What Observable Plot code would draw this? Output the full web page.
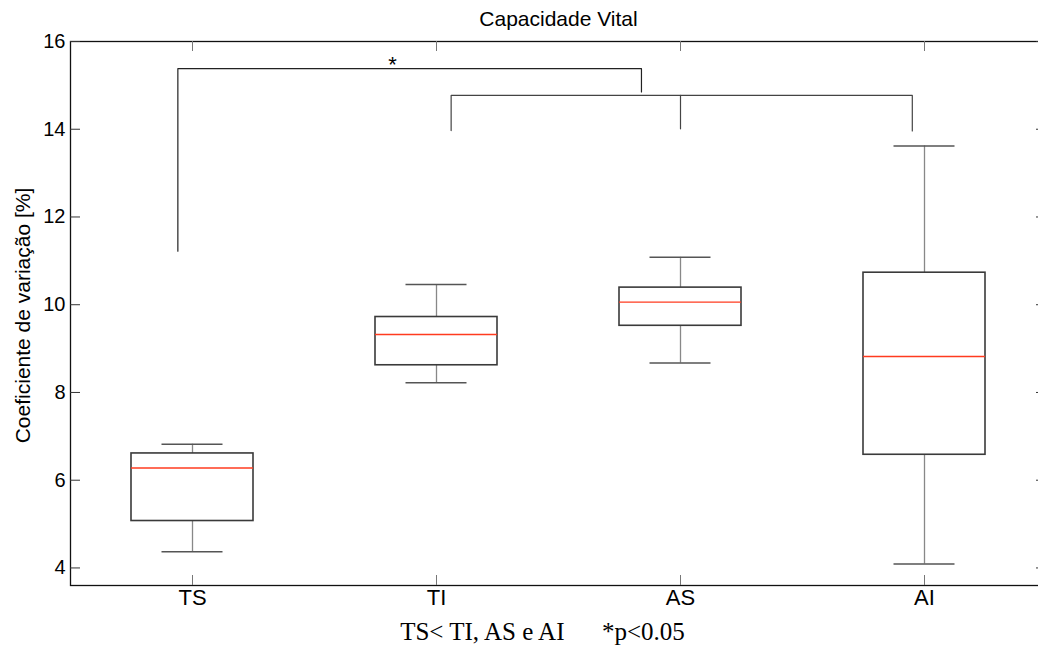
<!DOCTYPE html>
<html>
<head>
<meta charset="utf-8">
<script src="https://cdn.jsdelivr.net/npm/d3@7"></script>
<script src="https://cdn.jsdelivr.net/npm/@observablehq/plot@0.6"></script>
<style>
  html, body { margin: 0; padding: 0; background: white; overflow: hidden; }
  #chart svg { display: block; max-width: none !important; }
</style>
</head>
<body>
<div id="chart"></div>
<script>
// ---- data ----
const categories = ["TS", "TI", "AS", "AI"];
const lowerWhisker = [4.37, 8.22, 8.67, 4.09];
const q1 = [5.07, 8.62, 9.52, 6.58];
const median = [6.28, 9.32, 10.06, 8.82];
const q3 = [6.61, 9.72, 10.39, 10.73];
const upperWhisker = [6.82, 10.46, 11.08, 13.62];
const yTicks = [4, 6, 8, 10, 12, 14, 16];

// significance brackets (data units)
const bracket1X = [0.94, 0.94, 2.84, 2.84];
const bracket1Y = [11.22, 15.38, 15.38, 14.85];
const bracket2X = [2.06, 2.06, 3.95, 3.95];
const bracket2Y = [13.97, 14.77, 14.77, 13.96];
const bracket2MidX = [3, 3];
const bracket2MidY = [14.01, 14.77];
const starX = [1.82];
const starY = [15.57];

const title = "Capacidade Vital";
const yLabel = "Coeficiente de variação [%]";
const caption = "TS< TI, AS e AI\u00a0\u00a0\u00a0\u00a0\u00a0\u00a0*p<0.05";

// ---- layout/style ----
const W = 1050, H = 650;
const mL = 70, mR = 4, mT = 41, mB = 65;
const plotW = W - mL - mR, plotH = H - mT - mB;
const BOX_HALF = 0.25, CAP_HALF = 0.125;
const sans = "'Liberation Sans', Arial, Helvetica, sans-serif";
const serif = "'Liberation Serif', 'Times New Roman', serif";

const positions = categories.map((c, i) => i + 1);
const boxes = categories.map((c, i) => ({
  pos: i + 1, lo: lowerWhisker[i], q1: q1[i], med: median[i], q3: q3[i], hi: upperWhisker[i]
}));
const b1 = bracket1X.map((x, i) => ({x, y: bracket1Y[i]}));
const b2 = bracket2X.map((x, i) => ({x, y: bracket2Y[i]}));
const b2m = bracket2MidX.map((x, i) => ({x, y: bracket2MidY[i]}));
const stars = starX.map((x, i) => ({x, y: starY[i]}));

const chart = Plot.plot({
  width: W, height: H,
  marginLeft: mL, marginRight: mR, marginTop: mT, marginBottom: mB,
  style: {fontFamily: sans, background: "white", color: "black", overflow: "visible"},
  x: {domain: [0.5, 4.5]},
  y: {domain: [3.6, 16]},
  marks: [
    Plot.frame({stroke: "#111", strokeWidth: 1.3}),
    // inward ticks
    Plot.ruleY(yTicks, {y: d => d, insetRight: plotW - 10, stroke: "#333"}),
    Plot.ruleY(yTicks, {y: d => d, insetLeft: plotW - 10, stroke: "#333"}),
    Plot.ruleX(positions, {x: d => d, insetTop: plotH - 10, stroke: "#777"}),
    Plot.ruleX(positions, {x: d => d, insetBottom: plotH - 10, stroke: "#777"}),
    Plot.axisY(yTicks, {tickSize: 0, tickPadding: 5, fontSize: 20, label: null}),
    Plot.axisX(positions, {tickSize: 0, tickPadding: 4, fontSize: 22, label: null,
      tickFormat: d => categories[d - 1]}),
    // whiskers
    Plot.ruleX(boxes, {x: "pos", y1: "q3", y2: "hi", stroke: "#888", strokeWidth: 1.3}),
    Plot.ruleX(boxes, {x: "pos", y1: "lo", y2: "q1", stroke: "#888", strokeWidth: 1.3}),
    Plot.ruleY(boxes, {y: "hi", x1: d => d.pos - CAP_HALF, x2: d => d.pos + CAP_HALF, stroke: "#555", strokeWidth: 1.5}),
    Plot.ruleY(boxes, {y: "lo", x1: d => d.pos - CAP_HALF, x2: d => d.pos + CAP_HALF, stroke: "#555", strokeWidth: 1.5}),
    // boxes
    Plot.rect(boxes, {x1: d => d.pos - BOX_HALF, x2: d => d.pos + BOX_HALF, y1: "q1", y2: "q3",
      fill: "none", stroke: "#3a3a3a", strokeWidth: 1.6}),
    Plot.ruleY(boxes, {y: "med", x1: d => d.pos - BOX_HALF, x2: d => d.pos + BOX_HALF, stroke: "#ff3b1f", strokeWidth: 1.4}),
    // significance brackets
    Plot.line(b1, {x: "x", y: "y", stroke: "#222", strokeWidth: 1.2, curve: "linear"}),
    Plot.line(b2, {x: "x", y: "y", stroke: "#444", strokeWidth: 1.2, curve: "linear"}),
    Plot.line(b2m, {x: "x", y: "y", stroke: "#444", strokeWidth: 1.2}),
    Plot.text(stars, {x: "x", y: "y", text: () => "*", fontSize: 22, dy: 5}),
    // title, y label, caption
    Plot.text([title], {frameAnchor: "top", dy: -22, fontSize: 21, lineAnchor: "middle", textAnchor: "middle"}),
    Plot.text([yLabel], {frameAnchor: "left", rotate: -90, dx: -47, dy: 2, fontSize: 21,
      lineAnchor: "middle", textAnchor: "middle"}),
    Plot.text([caption], {frameAnchor: "bottom", dy: 46, dx: -16, fontSize: 25, fontFamily: serif,
      lineAnchor: "middle", textAnchor: "middle"})
  ]
});
document.getElementById("chart").appendChild(chart);
</script>
</body>
</html>
